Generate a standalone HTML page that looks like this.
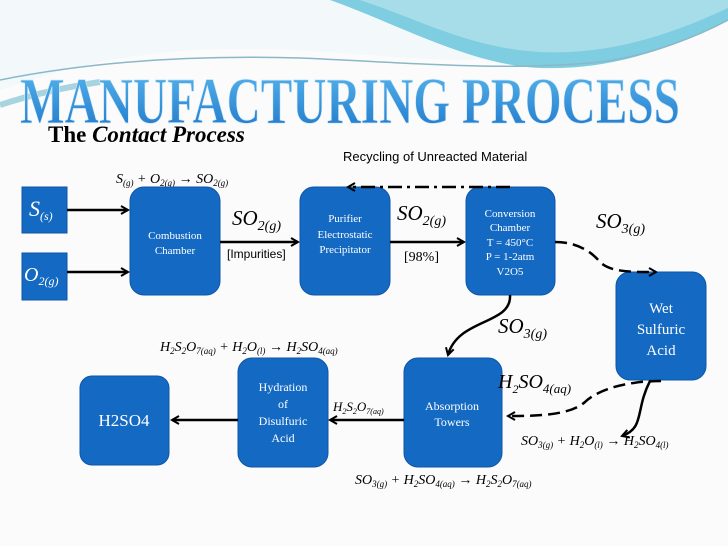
<!DOCTYPE html>
<html><head><meta charset="utf-8"><style>
html,body{margin:0;padding:0;background:#fbfbfb;}
svg{display:block}
</style></head><body>
<svg width="728" height="546" viewBox="0 0 728 546" xmlns="http://www.w3.org/2000/svg">
<defs>
<linearGradient id="tg" x1="0" y1="0" x2="0" y2="1">
<stop offset="0" stop-color="#5ab8ee"/><stop offset="1" stop-color="#1c74c8"/>
</linearGradient>
<marker id="ah" markerWidth="10" markerHeight="10" refX="8" refY="5" orient="auto" markerUnits="userSpaceOnUse">
<path d="M1,1 L8,5 L1,9" fill="none" stroke="#000" stroke-width="2"/>
</marker>
</defs>
<rect width="728" height="546" fill="#fbfbfb"/>
<!-- top waves -->
<path d="M0,0 L728,0 L728,15 C640,40 560,60 470,60 C380,60 300,45 200,50 C120,54 60,70 0,90 Z" fill="#f3f9fb"/>
<path d="M330,0 L728,0 L728,20 C660,55 600,70 540,68 C470,65 400,25 330,0 Z" fill="#7fcde0"/>
<path d="M360,0 L728,0 L728,8 C660,40 600,55 540,52 C470,48 420,20 360,0 Z" fill="#a6dde9"/>
<path d="M0,80 C100,60 200,55 300,58 C400,62 500,72 600,62 C650,56 700,35 728,20" fill="none" stroke="#8ab8c8" stroke-width="1.5"/>
<path d="M0,105 C30,95 60,88 100,82" fill="none" stroke="#a8d4e0" stroke-width="6"/>
<!-- title -->
<text x="20" y="123" font-family="Liberation Serif, serif" font-weight="bold" font-size="66" fill="url(#tg)" stroke="#d6ecf8" stroke-width="0.8" textLength="660" lengthAdjust="spacingAndGlyphs">MANUFACTURING PROCESS</text>
<text x="48" y="142" font-family="Liberation Serif, serif" font-weight="bold" font-size="23" fill="#000">The <tspan font-style="italic">Contact Process</tspan></text>
<text x="343" y="161" font-family="Liberation Sans, sans-serif" font-size="13" fill="#000">Recycling of Unreacted Material</text>
<g font-family="Liberation Serif, serif" font-style="italic" fill="#000">
<text x="116" y="183" font-size="14">S<tspan font-size="9" dy="3">(g)</tspan><tspan dy="-3"> + O</tspan><tspan font-size="9" dy="3">2(g)</tspan><tspan dy="-3"> → SO</tspan><tspan font-size="9" dy="3">2(g)</tspan></text>
</g>
<!-- boxes -->
<g fill="#1469c2" stroke="#0d56a8" stroke-width="1">
<rect x="22" y="187" width="45" height="46"/>
<rect x="22" y="253" width="45" height="47"/>
<rect x="130" y="187" width="90" height="108" rx="14"/>
<rect x="300" y="187" width="90" height="108" rx="14"/>
<rect x="466" y="187" width="89" height="108" rx="14"/>
<rect x="616" y="272" width="90" height="108" rx="14"/>
<rect x="404" y="358" width="98" height="109" rx="14"/>
<rect x="238" y="358" width="90" height="109" rx="14"/>
<rect x="80" y="376" width="89" height="89" rx="12"/>
</g>
<g font-family="Liberation Serif, serif" fill="#fff" text-anchor="middle">
<text x="175" y="239" font-size="11">Combustion</text>
<text x="175" y="254" font-size="11">Chamber</text>
<text x="345" y="222" font-size="11">Purifier</text>
<text x="345" y="238" font-size="11">Electrostatic</text>
<text x="345" y="253" font-size="11">Precipitator</text>
<text x="510" y="217" font-size="11">Conversion</text>
<text x="510" y="231" font-size="11">Chamber</text>
<text x="510" y="246" font-size="11">T = 450°C</text>
<text x="510" y="260" font-size="11">P = 1-2atm</text>
<text x="510" y="275" font-size="11">V2O5</text>
<text x="661" y="313" font-size="15">Wet</text>
<text x="661" y="334" font-size="15">Sulfuric</text>
<text x="661" y="355" font-size="15">Acid</text>
<text x="452" y="410" font-size="12">Absorption</text>
<text x="452" y="426" font-size="12">Towers</text>
<text x="283" y="391" font-size="12">Hydration</text>
<text x="283" y="408" font-size="12">of</text>
<text x="283" y="425" font-size="12">Disulfuric</text>
<text x="283" y="442" font-size="12">Acid</text>
<text x="124" y="426" font-size="17">H2SO4</text>
</g>
<g font-family="Liberation Serif, serif" font-style="italic" fill="#fff">
<text x="29" y="216" font-size="22">S<tspan font-size="12" dy="4">(s)</tspan></text>
<text x="24" y="281" font-size="20">O<tspan font-size="12" dy="4">2(g)</tspan></text>
</g>
<!-- connectors -->
<g stroke="#000" stroke-width="2.5" fill="none" marker-end="url(#ah)">
<line x1="67" y1="210" x2="128" y2="210"/>
<line x1="67" y1="272" x2="128" y2="272"/>
<line x1="220" y1="242" x2="298" y2="242"/>
<line x1="390" y1="242" x2="464" y2="242"/>
<path d="M555,242 C575,242 590,250 600,262 C610,272 630,272 656,272" stroke-dasharray="12,6"/>
<path d="M510,295 C512,325 458,318 448,355" />
<path d="M661,381 C630,381 600,388 585,402 C570,415 540,416 508,416" stroke-dasharray="12,6"/>
<path d="M650,381 C635,410 645,428 622,436"/>
<line x1="404" y1="420" x2="330" y2="420"/>
<line x1="238" y1="420" x2="172" y2="420"/>
<path d="M510,187 L348,187" stroke-dasharray="14,5,3,5"/>
</g>
<!-- labels -->
<g font-family="Liberation Serif, serif" font-style="italic" fill="#000">
<text x="232" y="225" font-size="21">SO<tspan font-size="14" dy="5">2(g)</tspan></text>
<text x="397" y="220" font-size="21">SO<tspan font-size="14" dy="5">2(g)</tspan></text>
<text x="596" y="228" font-size="21">SO<tspan font-size="14" dy="5">3(g)</tspan></text>
<text x="498" y="333" font-size="21">SO<tspan font-size="14" dy="5">3(g)</tspan></text>
<text x="498" y="388" font-size="20">H<tspan font-size="12" dy="5">2</tspan><tspan dy="-5">SO</tspan><tspan font-size="13" dy="5">4(aq)</tspan></text>
<text x="333" y="411" font-size="13">H<tspan font-size="8" dy="3">2</tspan><tspan dy="-3">S</tspan><tspan font-size="8" dy="3">2</tspan><tspan dy="-3">O</tspan><tspan font-size="8" dy="3">7(aq)</tspan></text>
<text x="160" y="351" font-size="14">H<tspan font-size="9" dy="3">2</tspan><tspan dy="-3">S</tspan><tspan font-size="9" dy="3">2</tspan><tspan dy="-3">O</tspan><tspan font-size="9" dy="3">7(aq)</tspan><tspan dy="-3"> + H</tspan><tspan font-size="9" dy="3">2</tspan><tspan dy="-3">O</tspan><tspan font-size="9" dy="3">(l)</tspan><tspan dy="-3"> → H</tspan><tspan font-size="9" dy="3">2</tspan><tspan dy="-3">SO</tspan><tspan font-size="9" dy="3">4(aq)</tspan></text>
<text x="521" y="445" font-size="14">SO<tspan font-size="9" dy="3">3(g)</tspan><tspan dy="-3"> + H</tspan><tspan font-size="9" dy="3">2</tspan><tspan dy="-3">O</tspan><tspan font-size="9" dy="3">(l)</tspan><tspan dy="-3"> → H</tspan><tspan font-size="9" dy="3">2</tspan><tspan dy="-3">SO</tspan><tspan font-size="9" dy="3">4(l)</tspan></text>
<text x="355" y="484" font-size="14">SO<tspan font-size="9" dy="3">3(g)</tspan><tspan dy="-3"> + H</tspan><tspan font-size="9" dy="3">2</tspan><tspan dy="-3">SO</tspan><tspan font-size="9" dy="3">4(aq)</tspan><tspan dy="-3"> → H</tspan><tspan font-size="9" dy="3">2</tspan><tspan dy="-3">S</tspan><tspan font-size="9" dy="3">2</tspan><tspan dy="-3">O</tspan><tspan font-size="9" dy="3">7(aq)</tspan></text>
</g>
<text x="227" y="258" font-family="Liberation Sans, sans-serif" font-size="12" fill="#000">[Impurities]</text>
<text x="404" y="261" font-family="Liberation Serif, serif" font-size="14" fill="#000">[98%]</text>
</svg>
</body></html>
